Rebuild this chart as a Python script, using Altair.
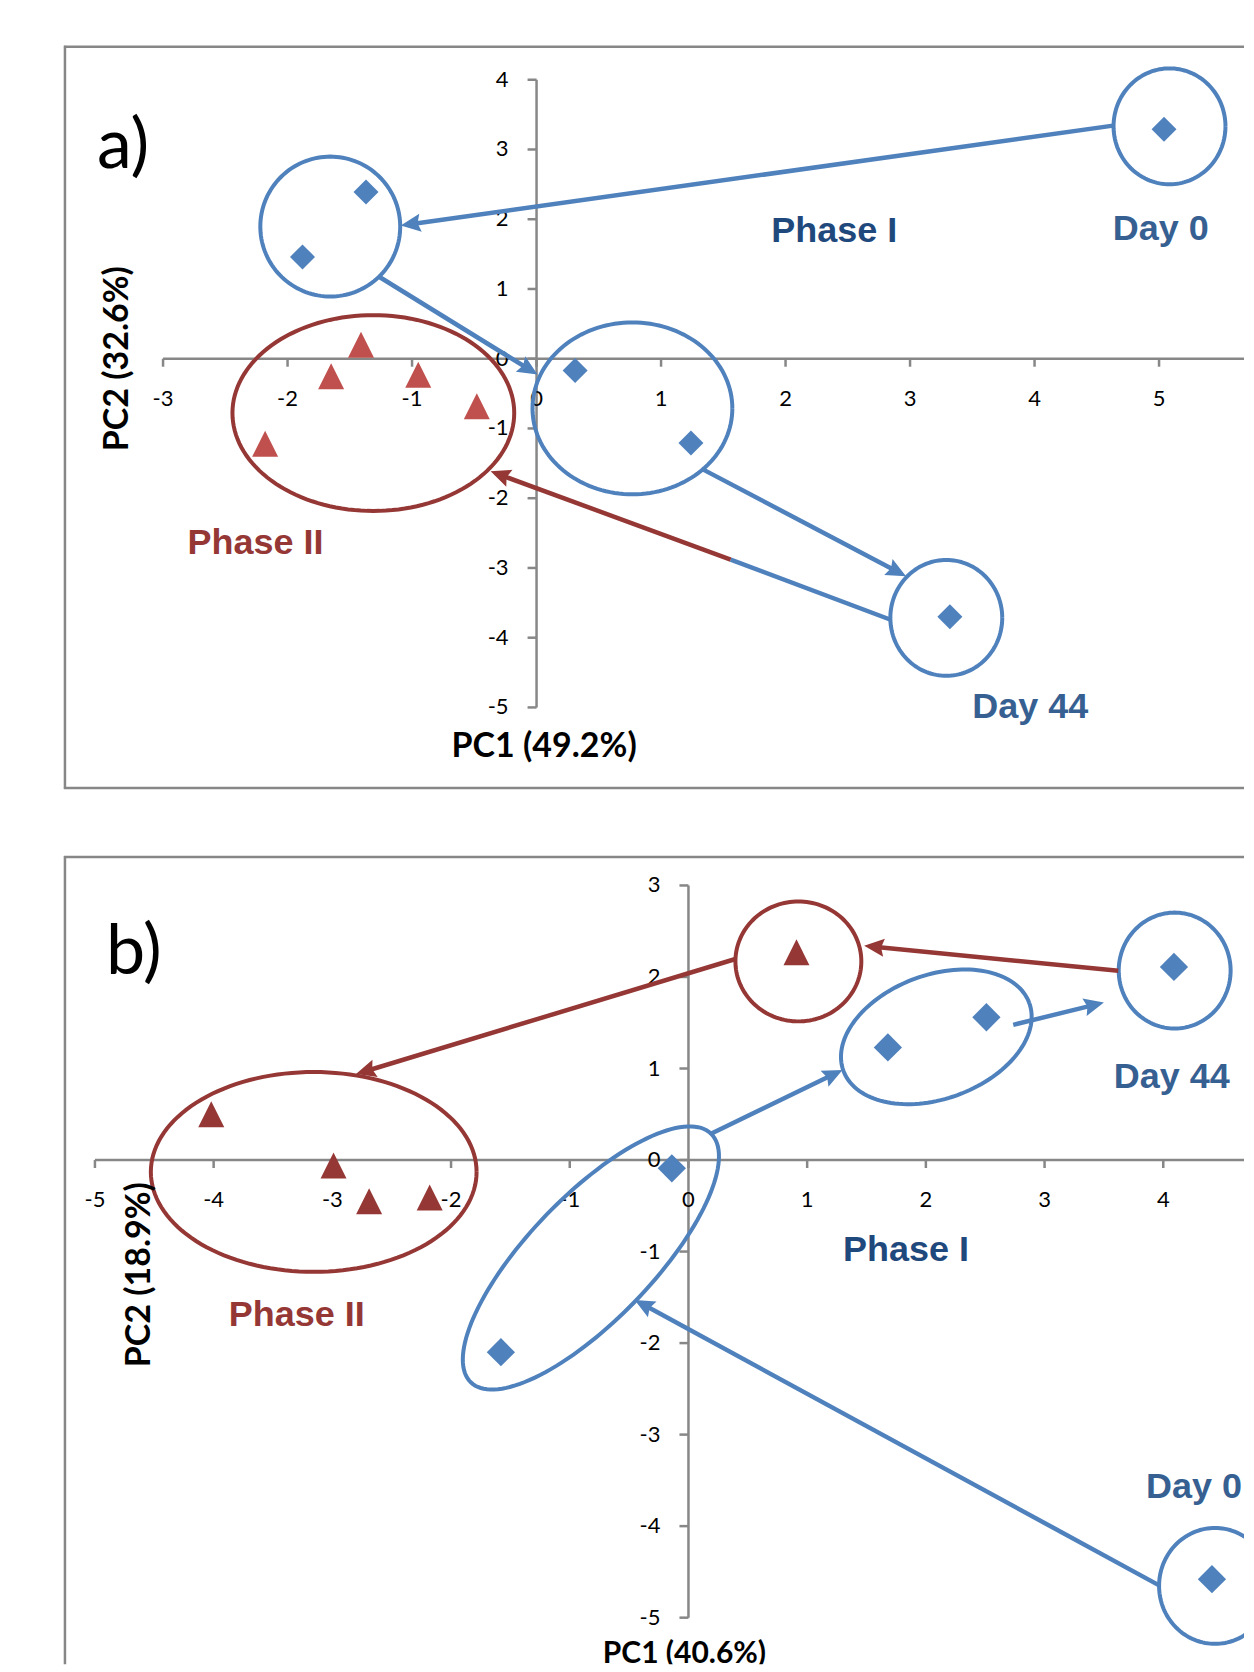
import math
import altair as alt
import pandas as pd

# ---------------- colours / fonts ----------------
BLUE = "#4F81BD"
RED_A = "#C0504D"
RED = "#953735"
NAVY = "#1F497D"
DAYBLUE = "#376092"
GREY = "#878787"
TICK_FONT = "Lato"
LABEL_FONT = "Liberation Sans"

# ---------------- panel a data ----------------
A_BLUE_X = [5.04, -1.37, -1.88, 0.31, 1.24, 3.32]
A_BLUE_Y = [3.29, 2.39, 1.46, -0.17, -1.21, -3.70]
A_RED_X = [-1.41, -1.65, -0.95, -0.48, -2.18]
A_RED_Y = [0.20, -0.25, -0.23, -0.68, -1.22]
A_XTICKS = [-3, -2, -1, 0, 1, 2, 3, 4, 5]
A_YTICKS = [-5, -4, -3, -2, -1, 0, 1, 2, 3, 4]
A_XAXIS = [-3, 6]
A_YAXIS = [-5, 4]
A_RING_CX = [5.084, -1.657, 0.770, 3.291, -1.311]
A_RING_CY = [3.332, 1.895, -0.712, -3.716, -0.779]
A_ARR_X0 = [4.631, -1.268, 1.324, 2.839, 1.559]
A_ARR_Y0 = [3.342, 1.179, -1.576, -3.739, -2.880]
A_ARR_X1 = [-1.091, 0.008, 2.968, 1.559, -0.369]
A_ARR_Y1 = [1.910, -0.226, -3.119, -2.880, -1.615]
A_TXT = ["Phase I", "Day 0", "Day 44", "Phase II"]
A_TXT_X = [2.392, 5.013, 3.965, -2.258]
A_TXT_Y = [1.670, 1.709, -5.149, -2.799]

# ---------------- panel b data ----------------
B_BLUE_X = [4.09, 2.51, 1.68, -0.14, -1.58, 4.41]
B_BLUE_Y = [2.11, 1.56, 1.23, -0.09, -2.10, -4.58]
B_RED_X = [0.91, -4.02, -2.99, -2.69, -2.18]
B_RED_Y = [2.27, 0.50, -0.06, -0.45, -0.41]
B_XTICKS = [-5, -4, -3, -2, -1, 0, 1, 2, 3, 4]
B_YTICKS = [-5, -4, -3, -2, -1, 0, 1, 2, 3]
B_XAXIS = [-5, 6]
B_YAXIS = [-5, 3]
B_RING_CX = [0.926, 4.096, 2.088, -0.822, -3.157, 4.436]
B_RING_CY = [2.170, 2.070, 1.346, -1.070, -0.130, -4.653]
B_ARR_X0 = [3.621, 0.389, 0.194, 2.736, 3.965]
B_ARR_Y0 = [2.067, 2.194, 0.290, 1.477, -4.647]
B_ARR_X1 = [1.480, -2.801, 1.298, 3.500, -0.453]
B_ARR_Y1 = [2.340, 0.939, 0.983, 1.721, -1.528]
B_TXT = ["Day 44", "Phase I", "Phase II", "Day 0"]
B_TXT_X = [4.071, 1.833, -3.300, 4.259]
B_TXT_Y = [0.786, -1.099, -1.809, -3.690]

# ---------------- layout / annotation styling (pixel sizes) ----------------
PA = dict(
    W=1181, H=744, x0=-3.796, kx=124.6, ytop=4.489, ky=69.8, frame_bottom=True,
    blue_x=A_BLUE_X, blue_y=A_BLUE_Y, red_x=A_RED_X, red_y=A_RED_Y, red_col=RED_A,
    xticks=A_XTICKS, yticks=A_YTICKS, xaxis=A_XAXIS, yaxis=A_YAXIS,
    ring_cx=A_RING_CX, ring_cy=A_RING_CY,
    ring_rx=[56, 70, 100, 56, 141], ring_ry=[58, 70, 86, 58, 98],
    ring_tilt=[0, 0, 0, 0, 0], ring_col=[BLUE, BLUE, BLUE, BLUE, RED],
    arr_x0=A_ARR_X0, arr_y0=A_ARR_Y0, arr_x1=A_ARR_X1, arr_y1=A_ARR_Y1,
    arr_col=[BLUE, BLUE, BLUE, BLUE, RED], arr_head=[True, True, True, False, True],
    txt=A_TXT, txt_x=A_TXT_X, txt_y=A_TXT_Y, txt_col=[NAVY, DAYBLUE, DAYBLUE, RED],
    pc1=("PC1 (49.2%)", 0.061, -5.712, 34), pc2=("PC2 (32.6%)", -3.283, 0.0),
    tag=("a)", -3.531, 2.731), dsize=625,
)
PB = dict(
    W=1181, H=809, x0=-5.261, kx=118.8, ytop=3.322, ky=91.6, frame_bottom=False,
    blue_x=B_BLUE_X, blue_y=B_BLUE_Y, red_x=B_RED_X, red_y=B_RED_Y, red_col=RED,
    xticks=B_XTICKS, yticks=B_YTICKS, xaxis=B_XAXIS, yaxis=B_YAXIS,
    ring_cx=B_RING_CX, ring_cy=B_RING_CY,
    ring_rx=[63, 56, 99, 173, 163, 56], ring_ry=[60, 58, 62, 62, 100, 58],
    ring_tilt=[0, 0, 20, 46, 0, 0], ring_col=[RED, BLUE, BLUE, BLUE, RED, BLUE],
    arr_x0=B_ARR_X0, arr_y0=B_ARR_Y0, arr_x1=B_ARR_X1, arr_y1=B_ARR_Y1,
    arr_col=[RED, RED, BLUE, BLUE, BLUE], arr_head=[True, True, True, True, True],
    txt=B_TXT, txt_x=B_TXT_X, txt_y=B_TXT_Y, txt_col=[DAYBLUE, NAVY, RED, DAYBLUE],
    pc1=("PC1 (40.6%)", -0.034, -5.499, 30), pc2=("PC2 (18.9%)", -4.537, -1.252),
    tag=("b)", -4.907, 2.031), dsize=800,
)

HEAD = 20  # arrowhead length, px
ARROW_PATH = "M0,-1L0.9,1L0,0.7L-0.9,1Z"
DIAMOND_PATH = "M-1,0L0,-1L1,0L0,1Z"
TRI_PATH = "M0,-1L1,1L-1,1Z"


def ring_df(P, n=140):
    rows = []
    for k in range(len(P["ring_cx"])):
        th = math.radians(P["ring_tilt"][k])
        a, b = P["ring_rx"][k], P["ring_ry"][k]
        for i in range(n + 1):
            t = 2 * math.pi * i / n
            ox = a * math.cos(th) * math.cos(t) - b * math.sin(th) * math.sin(t)
            oy = a * math.sin(th) * math.cos(t) + b * math.cos(th) * math.sin(t)
            rows.append({"id": k, "i": i, "x": P["ring_cx"][k] + ox / P["kx"],
                         "y": P["ring_cy"][k] + oy / P["ky"], "col": P["ring_col"][k]})
    return pd.DataFrame(rows)


def arrow_dfs(P):
    lines, heads = [], []
    kx, ky = P["kx"], P["ky"]
    for k in range(len(P["arr_x0"])):
        x0, y0, x1, y1 = P["arr_x0"][k], P["arr_y0"][k], P["arr_x1"][k], P["arr_y1"][k]
        dx, dy = (x1 - x0) * kx, -(y1 - y0) * ky
        L = math.hypot(dx, dy)
        ux, uy = dx / L, dy / L
        ex, ey = x1, y1
        if P["arr_head"][k]:
            back = HEAD * 0.75
            ex, ey = x1 - ux * back / kx, y1 + uy * back / ky
            hx, hy = x1 - ux * (HEAD / 2) / kx, y1 + uy * (HEAD / 2) / ky
            ang = math.degrees(math.atan2(ux, -uy)) % 360
            heads.append({"x": hx, "y": hy, "ang": ang, "col": P["arr_col"][k]})
        lines.append({"x": x0, "y": y0, "x2": ex, "y2": ey, "col": P["arr_col"][k]})
    return pd.DataFrame(lines), pd.DataFrame(heads)


def build(P):
    W, H = P["W"], P["H"]
    xdom = [P["x0"], P["x0"] + W / P["kx"]]
    ydom = [P["ytop"] - H / P["ky"], P["ytop"]]
    xs = alt.Scale(domain=xdom, nice=False, zero=False)
    ys = alt.Scale(domain=ydom, nice=False, zero=False)

    def X(f):
        return alt.X(f"{f}:Q", scale=xs, axis=None)

    def Y(f):
        return alt.Y(f"{f}:Q", scale=ys, axis=None)

    one = pd.DataFrame({"k": [0]})
    layers = []
    # frame (left, top, optional bottom)
    layers.append(alt.Chart(one).mark_rule(color=GREY, strokeWidth=2.5).encode(
        x=alt.value(1), y=alt.value(0), y2=alt.value(H)))
    layers.append(alt.Chart(one).mark_rule(color=GREY, strokeWidth=2.5).encode(
        x=alt.value(0), x2=alt.value(W), y=alt.value(1)))
    if P["frame_bottom"]:
        layers.append(alt.Chart(one).mark_rule(color=GREY, strokeWidth=2.5).encode(
            x=alt.value(0), x2=alt.value(W), y=alt.value(H - 1)))
    # axis lines
    ax = pd.DataFrame({"x": [P["xaxis"][0], 0], "x2": [P["xaxis"][1], 0],
                       "y": [0, P["yaxis"][0]], "y2": [0, P["yaxis"][1]]})
    layers.append(alt.Chart(ax).mark_rule(color=GREY, strokeWidth=2.5, clip=True).encode(
        x=X("x"), x2=alt.X2("x2:Q"), y=Y("y"), y2=alt.Y2("y2:Q")))
    # ticks
    xt = pd.DataFrame({"t": P["xticks"], "z": 0, "lab": [str(v) for v in P["xticks"]]})
    yt = pd.DataFrame({"t": P["yticks"], "z": 0, "lab": [str(v) for v in P["yticks"]]})
    layers.append(alt.Chart(xt).mark_rule(color=GREY, strokeWidth=2.5, y2Offset=8).encode(
        x=X("t"), y=Y("z"), y2=alt.Y2("z:Q")))
    layers.append(alt.Chart(yt).mark_rule(color=GREY, strokeWidth=2.5, x2Offset=-9).encode(
        y=Y("t"), x=X("z"), x2=alt.X2("z:Q")))
    layers.append(alt.Chart(xt).mark_text(font=TICK_FONT, fontSize=22, dy=40, baseline="middle",
                                          align="center", color="black").encode(
        x=X("t"), y=Y("z"), text="lab:N"))
    layers.append(alt.Chart(yt).mark_text(font=TICK_FONT, fontSize=22, dx=-28, baseline="middle",
                                          align="right", color="black").encode(
        x=X("z"), y=Y("t"), text="lab:N"))
    # rings
    layers.append(alt.Chart(ring_df(P)).mark_line(strokeWidth=4, clip=True).encode(
        x=X("x"), y=Y("y"), detail="id:N", order="i:Q", color=alt.Color("col:N", scale=None)))
    # arrows
    ldf, hdf = arrow_dfs(P)
    layers.append(alt.Chart(ldf).mark_rule(strokeWidth=4.5, clip=True).encode(
        x=X("x"), y=Y("y"), x2=alt.X2("x2:Q"), y2=alt.Y2("y2:Q"),
        color=alt.Color("col:N", scale=None)))
    layers.append(alt.Chart(hdf).mark_point(shape=ARROW_PATH, filled=True, opacity=1,
                                            size=HEAD * HEAD, strokeWidth=0).encode(
        x=X("x"), y=Y("y"), angle=alt.Angle("ang:Q", scale=None),
        color=alt.Color("col:N", scale=None)))
    # points
    bdf = pd.DataFrame({"x": P["blue_x"], "y": P["blue_y"]})
    rdf = pd.DataFrame({"x": P["red_x"], "y": P["red_y"]})
    layers.append(alt.Chart(bdf).mark_point(shape=DIAMOND_PATH, filled=True, opacity=1,
                                            size=P["dsize"], color=BLUE, strokeWidth=0).encode(
        x=X("x"), y=Y("y")))
    layers.append(alt.Chart(rdf).mark_point(shape=TRI_PATH, filled=True, opacity=1,
                                            size=676, color=P["red_col"], strokeWidth=0).encode(
        x=X("x"), y=Y("y")))
    # group labels
    tdf = pd.DataFrame({"x": P["txt_x"], "y": P["txt_y"], "t": P["txt"], "col": P["txt_col"]})
    layers.append(alt.Chart(tdf).mark_text(font=LABEL_FONT, fontSize=36, fontWeight="bold",
                                           align="center", baseline="alphabetic", clip=True).encode(
        x=X("x"), y=Y("y"), text="t:N", color=alt.Color("col:N", scale=None)))
    # axis titles and panel tag
    p1 = pd.DataFrame({"x": [P["pc1"][1]], "y": [P["pc1"][2]], "t": [P["pc1"][0]]})
    p2 = pd.DataFrame({"x": [P["pc2"][1]], "y": [P["pc2"][2]], "t": [P["pc2"][0]]})
    tg = pd.DataFrame({"x": [P["tag"][1]], "y": [P["tag"][2]], "t": [P["tag"][0]]})
    layers.append(alt.Chart(p1).mark_text(font=TICK_FONT, fontSize=P["pc1"][3], fontWeight="bold",
                                          clip=True, align="center", baseline="alphabetic",
                                          color="black").encode(
        x=X("x"), y=Y("y"), text="t:N"))
    layers.append(alt.Chart(p2).mark_text(font=TICK_FONT, fontSize=34, fontWeight="bold", angle=270,
                                          align="center", baseline="alphabetic", color="black").encode(
        x=X("x"), y=Y("y"), text="t:N"))
    layers.append(alt.Chart(tg).mark_text(font=TICK_FONT, fontSize=70, align="left",
                                          baseline="alphabetic", color="black").encode(
        x=X("x"), y=Y("y"), text="t:N"))
    return alt.layer(*layers).properties(width=W, height=H)


chart = (
    alt.vconcat(build(PA), build(PB), spacing=63)
    .properties(padding={"left": 54, "top": 35, "right": 0, "bottom": 0})
    .configure_view(stroke=None)
)

chart.save("out.html", embed_options={"renderer": "svg", "actions": False})
